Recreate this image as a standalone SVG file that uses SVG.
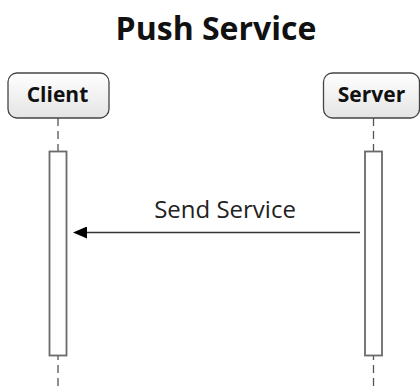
<svg xmlns="http://www.w3.org/2000/svg" width="420" height="390" viewBox="0 0 420 390">
  <style>
    .title { font-family: "Open Sans", "DejaVu Sans", sans-serif; font-weight: bold; font-size: 32px; fill: #111; }
    .actor .head { fill: url(#actorFill); stroke: #444; stroke-width: 1.3; }
    .actor text { font-family: "Open Sans", "DejaVu Sans", sans-serif; font-weight: bold; font-size: 21px; fill: #111; }
    .lifeline { stroke: #555; stroke-width: 1.3; stroke-dasharray: 8 5; fill: none; }
    .actor .activation { fill: #fff; stroke: #6a6a6a; stroke-width: 1.8; }
    .msg { stroke: #333; stroke-width: 1.3; fill: none; }
    .msg-label { font-family: "Open Sans", "DejaVu Sans", sans-serif; font-size: 24px; fill: #222; }
  </style>
  <defs>
    <linearGradient id="actorFill" x1="0" y1="0" x2="0" y2="1">
      <stop offset="0" stop-color="#ffffff"/>
      <stop offset="1" stop-color="#e4e4e4"/>
    </linearGradient>
    <marker id="arrowHead" viewBox="0 0 14 12" refX="0" refY="6" markerWidth="14" markerHeight="12" markerUnits="userSpaceOnUse" orient="auto-start-reverse">
      <path d="M0,0 L14,6 L0,12 z" fill="#000"/>
    </marker>
  </defs>

  <text class="title" x="216" y="40" text-anchor="middle">Push Service</text>

  <!-- lifelines (dashed) -->
  <g id="lifelines">
    <line class="lifeline" x1="58" y1="118" x2="58" y2="390"/>
    <line class="lifeline" x1="373.5" y1="118" x2="373.5" y2="390"/>
  </g>

  <g id="client" class="actor">
    <rect class="head" x="8" y="73" width="101" height="45" rx="9"/>
    <text x="57.5" y="102" text-anchor="middle">Client</text>
    <rect class="activation" x="49.5" y="151.5" width="17" height="204"/>
  </g>

  <g id="server" class="actor">
    <rect class="head" x="323.5" y="73" width="96" height="45" rx="9"/>
    <text x="371.5" y="102" text-anchor="middle">Server</text>
    <rect class="activation" x="365" y="151.5" width="17" height="204"/>
  </g>

  <g id="connectors">
    <line class="msg" x1="360" y1="232.5" x2="87" y2="232.5" marker-end="url(#arrowHead)"/>
    <text class="msg-label" x="225" y="218" text-anchor="middle">Send Service</text>
  </g>
</svg>
